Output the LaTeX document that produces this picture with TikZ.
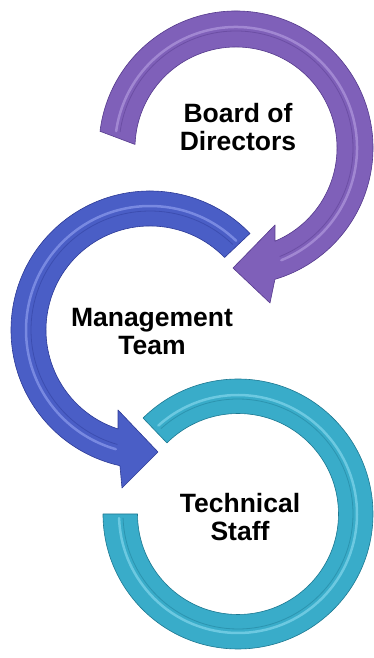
\documentclass[tikz,border=0pt]{standalone}
\usepackage{fontspec}
\setmainfont{Liberation Sans}
\usetikzlibrary{calc}
\definecolor{violetring}{HTML}{7F60B9}
\definecolor{violetdark}{HTML}{553A8C}
\definecolor{violetlight}{HTML}{B8A2E3}
\definecolor{bluering}{HTML}{4A5EC6}
\definecolor{bluedark}{HTML}{2C3A96}
\definecolor{bluelight}{HTML}{98A6F4}
\definecolor{tealring}{HTML}{39ACC9}
\definecolor{tealdark}{HTML}{1D7891}
\definecolor{teallight}{HTML}{8FDDF1}
\tikzstyle{ring} = [line width=0.6pt, line join=round]
\tikzstyle{glint} = [line width=2.5pt, opacity=0.6, line cap=round]
\tikzstyle{crease} = [line width=0.8pt, opacity=0.45, line cap=round]
\tikzstyle{ringtext} = [font=\bfseries\fontsize{26.5}{28}\selectfont, align=center, inner sep=0pt]

\begin{document}
\begin{tikzpicture}[x=1pt, y=1pt]
\useasboundingbox (0,0) rectangle (373,658);
% board ring, clockwise, head at the bottom
\begin{scope}[shift={(236,510)}]
\filldraw[ring, fill=violetring, draw=violetdark] (173:137) arc[start angle=173, end angle=-73.5, radius=137]
  -- (34,-155) -- (-3,-120) -- (39,-77) -- (-67.3:101) arc[start angle=-67.3, end angle=178, radius=101] -- cycle;
\draw[glint, draw=violetlight] (172:121) arc[start angle=172, end angle=-68, radius=121];
\draw[crease, draw=violetdark] (172:117) arc[start angle=172, end angle=-68, radius=117];
\end{scope}
% management ring, counter clockwise
\begin{scope}[shift={(150,328)}]
\filldraw[ring, fill=bluering, draw=bluedark] (44:139) arc[start angle=44, end angle=257.5, radius=139]
  -- (-28,-158) -- (8,-122) -- (-32,-80) -- (252.1:104) arc[start angle=252.1, end angle=44.2, radius=104] -- cycle;
\draw[glint, draw=bluelight] (46:124) arc[start angle=46, end angle=254, radius=124];
\draw[crease, draw=bluedark] (46:119) arc[start angle=46, end angle=254, radius=119];
\end{scope}
% technical ring, open on the upper left
\begin{scope}[shift={(238,144)}]
\filldraw[ring, fill=tealring, draw=tealdark] (134.7:135) arc[start angle=134.7, end angle=-180, radius=135]
  -- (-180:100.5) arc[start angle=-180, end angle=135, radius=100.5] -- cycle;
\draw[glint, draw=teallight] (132:119) arc[start angle=132, end angle=-178, radius=119];
\draw[crease, draw=tealdark] (132:115) arc[start angle=132, end angle=-178, radius=115];
\end{scope}
\node[ringtext] (board) at (238,531) {Board of\\Directors};
\node[ringtext] (mgmt) at (152,326) {Management\\Team};
\node[ringtext] (tech) at (240,141) {Technical\\Staff};
\end{tikzpicture}
\end{document}
